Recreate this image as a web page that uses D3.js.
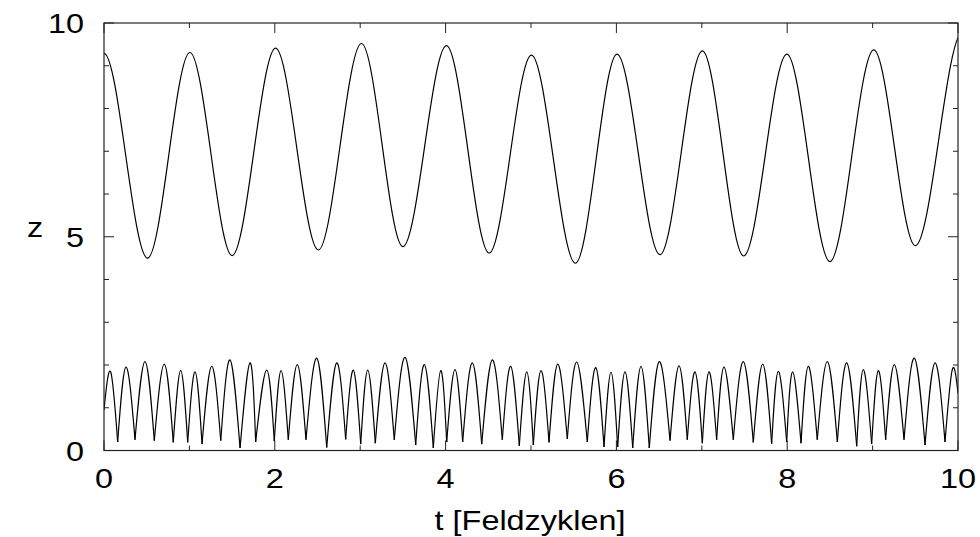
<!DOCTYPE html>
<html>
<head>
<meta charset="utf-8">
<script src="https://cdn.jsdelivr.net/npm/d3@7"></script>
<style>
  html, body { margin: 0; padding: 0; background: #fff; }
  svg { display: block; }
  text { font-family: "Liberation Sans", Arial, Helvetica, sans-serif; font-size: 27px; fill: #000; }
</style>
</head>
<body>
<svg id="chart" width="980" height="537"></svg>
<script>
// ---- data ----
const xMajorTicks = [0, 2, 4, 6, 8, 10];
const xMinorTicks = [1, 3, 5, 7, 9];
const yMajorTicks = [0, 5, 10];
const yMinorTicks = [1, 2, 3, 4, 6, 7, 8, 9];
const xTitle = "t [Feldzyklen]";
const yTitle = "z";

// upper curve: extrema (t, z); first and last points lie just outside the plotted range
const upperT = [-0.5, 0, 0.51, 1.006, 1.50, 2.009, 2.51, 3.015, 3.50, 4.01, 4.51, 5.005, 5.52, 6.007, 6.51, 7.007, 7.49, 7.996, 8.50, 9.014, 9.50, 10.05, 10.5];
const upperZ = [4.5, 9.29, 4.50, 9.31, 4.56, 9.41, 4.69, 9.52, 4.77, 9.47, 4.62, 9.25, 4.38, 9.27, 4.58, 9.35, 4.55, 9.27, 4.42, 9.37, 4.79, 9.78, 4.6];

// lower curve: arch tops (t, z)
const peakT = [0.078, 0.258, 0.480, 0.706, 0.898, 1.066, 1.261, 1.475, 1.710, 1.905,
               2.073, 2.263, 2.491, 2.725, 2.919, 3.088, 3.290, 3.525, 3.751, 3.943,
               4.110, 4.313, 4.547, 4.762, 4.950, 5.117, 5.313, 5.535, 5.758, 5.937,
               6.101, 6.288, 6.502, 6.733, 6.920, 7.084, 7.260, 7.486, 7.713, 7.896,
               8.064, 8.247, 8.470, 8.697, 8.891, 9.067, 9.254, 9.488, 9.731, 9.933];
const peakZ = [1.84, 1.95, 2.08, 2.02, 1.87, 1.84, 1.97, 2.12, 2.05, 1.88,
               1.87, 2.01, 2.16, 2.05, 1.88, 1.88, 2.05, 2.18, 2.01, 1.87,
               1.89, 2.05, 2.12, 1.97, 1.84, 1.87, 2.02, 2.07, 1.94, 1.83,
               1.84, 1.97, 2.08, 1.98, 1.84, 1.84, 1.95, 2.08, 2.02, 1.85,
               1.84, 1.97, 2.08, 2.05, 1.89, 1.87, 2.01, 2.16, 2.05, 1.89];
// lower curve: arch ends (start, cusps, end)
const cuspT = [0, 0.160, 0.363, 0.589, 0.811, 0.980, 1.148, 1.367, 1.593, 1.776, 1.994,
               2.158, 2.365, 2.608, 2.830, 3.006, 3.177, 3.399, 3.650, 3.856, 4.013,
               4.200, 4.423, 4.664, 4.863, 5.027, 5.211, 5.425, 5.659, 5.855, 6.015,
               6.191, 6.385, 6.628, 6.830, 7.006, 7.174, 7.369, 7.603, 7.818, 7.994,
               8.162, 8.352, 8.587, 8.814, 8.989, 9.153, 9.368, 9.614, 9.848, 10];
const cuspZ = [0.95, 0.20, 0.25, 0.23, 0.19, 0.19, 0.15, 0.23, 0.06, 0.20, 0.22,
               0.25, 0.25, 0.07, 0.26, 0.15, 0.17, 0.25, 0.13, 0.06, 0.20,
               0.20, 0.15, 0.25, 0.11, 0.13, 0.19, 0.27, 0.20, 0.08, 0.08,
               0.06, 0.06, 0.23, 0.25, 0.17, 0.25, 0.25, 0.19, 0.16, 0.20,
               0.17, 0.25, 0.20, 0.10, 0.15, 0.25, 0.25, 0.13, 0.20, 1.34];

// ---- layout ----
const L = 104, R = 958, T = 23, B = 450.5;
const svg = d3.select("#chart");
const x = d3.scaleLinear().domain([0, 10]).range([L, R]);
const y = d3.scaleLinear().domain([0, 10]).range([B, T]);

svg.append("defs").append("clipPath").attr("id", "clip")
  .append("rect").attr("x", L).attr("y", T).attr("width", R - L).attr("height", B - T);

const plot = svg.append("g").attr("clip-path", "url(#clip)");

// upper curve
const upper = upperT.map((t, i) => [t, upperZ[i]]);
plot.append("path")
  .attr("d", d3.line().x(d => x(d[0])).y(d => y(d[1])).curve(d3.curveMonotoneX)(upper))
  .attr("fill", "none").attr("stroke", "#000").attr("stroke-width", 1.2);

// lower curve: one arch per bounce
const archLine = d3.line().x(d => x(d[0])).y(d => y(d[1])).curve(d3.curveNatural);
const arches = peakT.map((t, i) => [[cuspT[i], cuspZ[i]], [t, peakZ[i]], [cuspT[i + 1], cuspZ[i + 1]]]);
plot.selectAll("path.arch").data(arches).join("path")
  .attr("class", "arch")
  .attr("d", d => archLine(d))
  .attr("fill", "none").attr("stroke", "#000").attr("stroke-width", 1.2);

// frame and ticks
const axisColor = "#222";
svg.append("rect").attr("x", L).attr("y", T).attr("width", R - L).attr("height", B - T)
  .attr("fill", "none").attr("stroke", axisColor).attr("stroke-width", 1.2);

function xTicks(vals, len) {
  vals.forEach(v => {
    svg.append("line").attr("x1", x(v)).attr("x2", x(v)).attr("y1", B).attr("y2", B - len)
      .attr("stroke", axisColor).attr("stroke-width", 1);
    svg.append("line").attr("x1", x(v)).attr("x2", x(v)).attr("y1", T).attr("y2", T + len)
      .attr("stroke", axisColor).attr("stroke-width", 1);
  });
}
function yTicks(vals, len) {
  vals.forEach(v => {
    svg.append("line").attr("x1", L).attr("x2", L + len).attr("y1", y(v)).attr("y2", y(v))
      .attr("stroke", axisColor).attr("stroke-width", 1);
    svg.append("line").attr("x1", R).attr("x2", R - len).attr("y1", y(v)).attr("y2", y(v))
      .attr("stroke", axisColor).attr("stroke-width", 1);
  });
}
xTicks(xMajorTicks, 10); xTicks(xMinorTicks, 5);
yTicks(yMajorTicks, 10); yTicks(yMinorTicks, 5);

// labels (horizontally stretched like the reference)
const SX = 1.2;
function label(px, py, txt, anchor) {
  svg.append("g").attr("transform", `translate(${px},${py})`)
    .append("text").attr("transform", `scale(${SX},1)`)
    .attr("text-anchor", anchor).text(txt);
}
xMajorTicks.forEach(v => label(x(v), 488, String(v), "middle"));
yMajorTicks.forEach(v => label(84, y(v) + 10, String(v), "end"));
label(530, 530, xTitle, "middle");
label(35, 237, yTitle, "middle");
</script>
</body>
</html>
